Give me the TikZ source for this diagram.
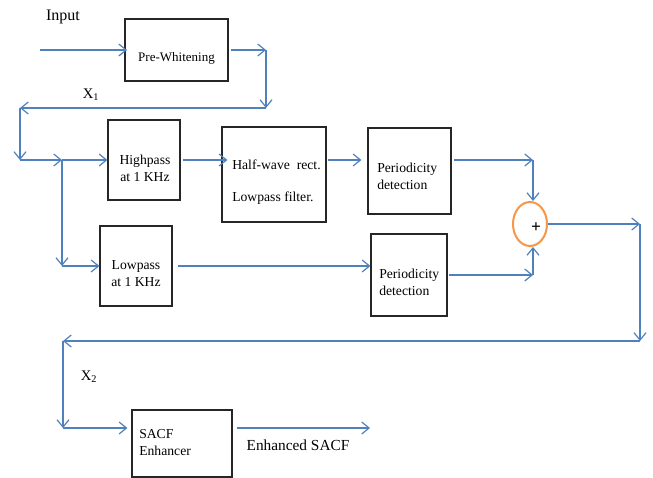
\documentclass[tikz,border=0pt]{standalone}
\usepackage{fontspec}
\setmainfont{Liberation Serif}
\usetikzlibrary{arrows.meta,shapes.geometric}
\definecolor{lineblue}{RGB}{79,129,189}
\definecolor{sumorange}{RGB}{247,150,70}
\begin{document}
\begin{tikzpicture}[x=0.75pt,y=-0.75pt,
  arr/.style={draw=lineblue,line width=0.9pt,-{Straight Barb[length=5.5pt,width=9pt]}},
  box/.style={draw=black!85,line width=0.9pt,rectangle,inner sep=0pt},
  txt/.style={inner sep=0pt,font=\fontsize{10.25}{12.75}\selectfont,align=left},
  ctxt/.style={inner sep=0pt,font=\fontsize{10.25}{12.75}\selectfont,align=center}
]
\useasboundingbox[fill=white] (0,0) rectangle (653,478);

% boxes
\node[box,minimum width=77.25pt,minimum height=46.5pt] (pw) at (176.5,50) {};
\node[box,minimum width=54pt,minimum height=60pt] (hp) at (144,160) {};
\node[box,minimum width=78pt,minimum height=71.25pt] (hw) at (274,174.5) {};
\node[box,minimum width=62.25pt,minimum height=64.5pt] (p1) at (409.5,171) {};
\node[box,minimum width=54pt,minimum height=60pt] (lp) at (136,266) {};
\node[box,minimum width=57pt,minimum height=61.5pt] (p2) at (409,275) {};
\node[box,minimum width=75pt,minimum height=50.25pt] (sacf) at (182,443.5) {};
\node[ellipse,draw=sumorange,line width=1.5pt,minimum width=25.5pt,minimum height=33pt,inner sep=0pt] (sum) at (530,224) {};

% texts
\node[ctxt,font=\fontsize{9.75}{12}\selectfont] (tpw) at (176.5,58) {Pre-Whitening};
\node[ctxt] (thp) at (145,168.5) {Highpass\\at 1 KHz};
\node[txt,anchor=west] (thw) at (232,182) {Half-wave\ \ rect.\\[11.25pt]Lowpass filter.};
\node[txt,anchor=west] (tp1) at (377,176.5) {Periodicity\\detection};
\node[ctxt] (tlp) at (136,273.5) {Lowpass\\at 1 KHz};
\node[txt,anchor=west] (tp2) at (379,282) {Periodicity\\detection};
\node[txt,anchor=west] (tsacf) at (139,443) {SACF\\Enhancer};
\node[ctxt,font=\bfseries\fontsize{13}{14}\selectfont] (plus) at (536,228) {+};
\node[ctxt,font=\fontsize{12}{14}\selectfont] (tin) at (63,17) {Input};
\node[ctxt,font=\fontsize{11}{13}\selectfont] (tx1) at (91,95) {X\textsubscript{1}};
\node[ctxt,font=\fontsize{11}{13}\selectfont] (tx2) at (89,377) {X\textsubscript{2}};
\node[ctxt,font=\fontsize{11.5}{13}\selectfont] (tout) at (298,445) {Enhanced SACF};

% connector points
\coordinate (in0) at (40,50);
\coordinate (b1) at (266,50);
\coordinate (b2) at (266,108);
\coordinate (b3) at (20,108);
\coordinate (b4) at (20,160);
\coordinate (s1) at (62,160);
\coordinate (s2) at (62,266);
\coordinate (c1) at (533,160);
\coordinate (c2) at (533,275);
\coordinate (c3) at (640,224);
\coordinate (c4) at (640,341);
\coordinate (c5) at (63,341);
\coordinate (c6) at (63,428);
\coordinate (out) at (370,428);

% connectors
\draw[arr] (in0) -- ([xshift=2pt]pw.west);
\draw[arr] ([xshift=1.5pt]pw.east) -- (b1);
\draw[arr] (b1) -- (b2);
\draw[arr] (b2) -- (b3);
\draw[arr] (b3) -- (b4);
\draw[arr] (b4) -- (s1);
\draw[arr] (s1) -- (hp.west);
\draw[arr] (s1) -- (s2);
\draw[arr] (s2) -- (lp.west);
\draw[arr] ([xshift=2pt]hp.east) -- ([xshift=4.5pt]hp.east -| hw.west);
\draw[arr] ([xshift=1pt]hw.east |- s1) -- ([xshift=-4.5pt]p1.west |- s1);
\draw[arr] ([xshift=2pt]p1.east |- s1) -- (c1);
\draw[arr] (c1) -- ([xshift=2.25pt]sum.north);
\draw[arr] ([xshift=4pt]lp.east |- s2) -- (p2.west |- s2);
\draw[arr] ([xshift=1pt]p2.east) -- (c2);
\draw[arr] (c2) -- ([xshift=2.25pt]sum.south);
\draw[arr] (sum.east) -- (c3);
\draw[arr] (c3) -- (c4);
\draw[arr] (c4) -- (c5);
\draw[arr] (c5) -- (c6);
\draw[arr] (c6) -- ([xshift=-3pt]sacf.west |- c6);
\draw[arr] ([xshift=3pt]sacf.east |- c6) -- (out);
\end{tikzpicture}
\end{document}
